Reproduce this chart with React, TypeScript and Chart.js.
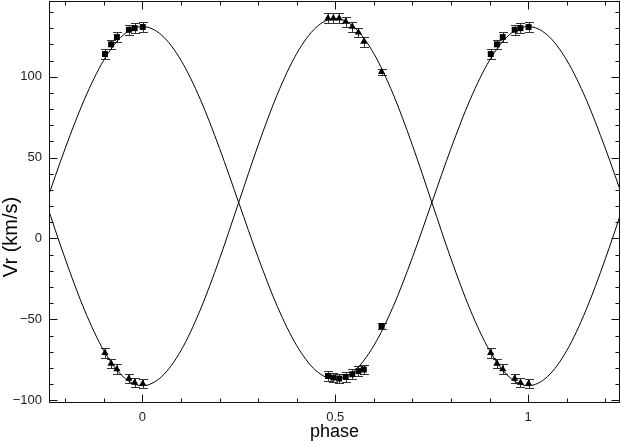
import React, { useEffect, useRef } from 'react';
import { Chart, registerables } from 'chart.js';

Chart.register(...registerables);

// Observed epochs (orbital phase) and radial velocities (km/s)
const OBS_PHASE = [-0.097, -0.081, -0.066, -0.035, -0.02, 0.001, 0.481, 0.495, 0.51, 0.527, 0.544, 0.56, 0.574, 0.62];
const VR_PRIMARY = [114.0, 120.0, 124.5, 129.0, 130.0, 130.7, -85.0, -86.0, -86.6, -85.6, -83.9, -82.0, -81.0, -54.2];
const VR_SECONDARY = [-70.7, -77.3, -80.8, -86.6, -89.1, -89.7, 136.1, 136.1, 136.1, 134.0, 130.9, 127.4, 121.6, 103.0];
const VR_ERROR = [3, 3, 3, 3, 3, 3, 3, 3, 3, 3, 3, 3, 3, 2];

// Orbit solution curves
const CURVE_PHASE = [
  -0.25, -0.2, -0.15, -0.1, -0.05, 0, 0.05, 0.1, 0.15, 0.2, 0.25, 0.3, 0.35, 0.4, 0.45, 0.5,
  0.55, 0.6, 0.65, 0.7, 0.75, 0.8, 0.85, 0.9, 0.95, 1.0, 1.05, 1.1, 1.15, 1.2, 1.25,
];
const CURVE_PRIMARY = [
  22, 55.7, 86.1, 110.2, 125.7, 131, 125.7, 110.2, 86.1, 55.7, 22, -11.7, -42.1, -66.2, -81.7, -87,
  -81.7, -66.2, -42.1, -11.7, 22, 55.7, 86.1, 110.2, 125.7, 131, 125.7, 110.2, 86.1, 55.7, 22,
];
const CURVE_SECONDARY = [
  22.5, -12.6, -44.2, -69.3, -85.4, -91, -85.4, -69.3, -44.2, -12.6, 22.5, 57.6, 89.2, 114.3, 130.4, 136,
  130.4, 114.3, 89.2, 57.6, 22.5, -12.6, -44.2, -69.3, -85.4, -91, -85.4, -69.3, -44.2, -12.6, 22.5,
];

const X_TICKS = [0, 0.5, 1];
const Y_TICKS = [-100, -50, 0, 50, 100];
const X_MIN = -0.242;
const X_MAX = 1.238;
const Y_MIN = -101.7;
const Y_MAX = 146.8;
const X_TITLE = 'phase';
const Y_TITLE = 'Vr (km/s)';

const FONT = "'Liberation Sans', Arial, Helvetica, sans-serif";
const TEXT = '#222';

function expand(phases: number[], values: number[], errs: number[]) {
  const pts: { x: number; y: number; e: number }[] = [];
  phases.forEach((p, i) => {
    pts.push({ x: p, y: values[i], e: errs[i] });
    if (p + 1 <= X_MAX) pts.push({ x: p + 1, y: values[i], e: errs[i] });
  });
  return pts;
}

function curve(values: number[]) {
  return CURVE_PHASE.map((p, i) => ({ x: p, y: values[i] }));
}

const errorBars = {
  id: 'errorBars',
  beforeDatasetsDraw(chart: any) {
    const { ctx, scales } = chart;
    const xs = scales.x;
    const ys = scales.y;
    ctx.save();
    ctx.strokeStyle = '#333';
    ctx.lineWidth = 1;
    chart.data.datasets.forEach((ds: any) => {
      if (!ds.errorBars) return;
      ds.data.forEach((pt: any) => {
        const px = Math.round(xs.getPixelForValue(pt.x)) + 0.5;
        const y1 = Math.round(ys.getPixelForValue(pt.y - pt.e)) + 0.5;
        const y2 = Math.round(ys.getPixelForValue(pt.y + pt.e)) + 0.5;
        ctx.beginPath();
        ctx.moveTo(px, y1);
        ctx.lineTo(px, y2);
        ctx.moveTo(px - 4.5, y1);
        ctx.lineTo(px + 4.5, y1);
        ctx.moveTo(px - 4.5, y2);
        ctx.lineTo(px + 4.5, y2);
        ctx.stroke();
      });
    });
    ctx.restore();
  },
};

const frameTicks = {
  id: 'frameTicks',
  afterDraw(chart: any) {
    const { ctx, chartArea, scales } = chart;
    const xs = scales.x;
    const ys = scales.y;
    const l = chartArea.left + 0.5;
    const r = chartArea.right - 0.5;
    const t = chartArea.top + 0.5;
    const b = chartArea.bottom - 0.5;
    ctx.save();
    ctx.strokeStyle = '#111';
    ctx.lineWidth = 1;
    ctx.strokeRect(l, t, r - l, b - t);
    ctx.beginPath();
    for (let k = -2; k <= 12; k++) {
      const v = k / 10;
      if (v < X_MIN || v > X_MAX) continue;
      const len = k % 5 === 0 ? 8 : 4;
      const px = Math.round(xs.getPixelForValue(v)) + 0.5;
      ctx.moveTo(px, b);
      ctx.lineTo(px, b - len);
      ctx.moveTo(px, t);
      ctx.lineTo(px, t + len);
    }
    for (let v = -100; v <= 140; v += 10) {
      if (v < Y_MIN || v > Y_MAX) continue;
      const len = v % 50 === 0 ? 8 : 4;
      const py = Math.round(ys.getPixelForValue(v)) + 0.5;
      ctx.moveTo(l, py);
      ctx.lineTo(l + len, py);
      ctx.moveTo(r, py);
      ctx.lineTo(r - len, py);
    }
    ctx.stroke();

    // y-axis title (rotated), placed as in the reference
    ctx.fillStyle = '#000';
    ctx.font = `20px ${FONT}`;
    ctx.textAlign = 'center';
    ctx.textBaseline = 'middle';
    ctx.translate(11, 237);
    ctx.rotate(-Math.PI / 2);
    ctx.fillText(Y_TITLE, 0, 0);
    ctx.restore();
  },
};

export default function App() {
  const ref = useRef<HTMLCanvasElement | null>(null);

  useEffect(() => {
    if (!ref.current) return;
    const chart = new Chart(ref.current, {
      type: 'scatter',
      data: {
        datasets: [
          {
            label: 'primary',
            data: expand(OBS_PHASE, VR_PRIMARY, VR_ERROR),
            pointStyle: 'rect',
            pointRadius: 4.2,
            backgroundColor: '#000',
            borderColor: '#000',
            borderWidth: 0,
            errorBars: true,
          } as any,
          {
            label: 'secondary',
            data: expand(OBS_PHASE, VR_SECONDARY, VR_ERROR),
            pointStyle: 'triangle',
            pointRadius: 4.2,
            backgroundColor: '#000',
            borderColor: '#000',
            borderWidth: 0,
            errorBars: true,
          } as any,
          {
            label: 'primary orbit',
            data: curve(CURVE_PRIMARY),
            showLine: true,
            pointRadius: 0,
            borderColor: '#000',
            borderWidth: 1,
            cubicInterpolationMode: 'monotone',
          } as any,
          {
            label: 'secondary orbit',
            data: curve(CURVE_SECONDARY),
            showLine: true,
            pointRadius: 0,
            borderColor: '#000',
            borderWidth: 1,
            cubicInterpolationMode: 'monotone',
          } as any,
        ],
      },
      options: {
        animation: false,
        responsive: false,
        devicePixelRatio: 1,
        layout: { autoPadding: false, padding: { left: 0, right: 1, top: 1, bottom: 0 } },
        plugins: { legend: { display: false }, tooltip: { enabled: false } },
        events: [],
        scales: {
          x: {
            type: 'linear',
            min: X_MIN,
            max: X_MAX,
            grid: { display: false, drawTicks: false },
            border: { display: false },
            afterBuildTicks: (s: any) => {
              s.ticks = X_TICKS.map((v) => ({ value: v }));
            },
            afterFit: (s: any) => {
              s.height = 40;
              s.paddingLeft = 0;
              s.paddingRight = 0;
            },
            ticks: {
              padding: 7,
              maxRotation: 0,
              color: TEXT,
              font: { family: FONT, size: 13 },
              callback: (v: any) => String(v).replace('-', '\u2212'),
            },
            title: {
              display: true,
              text: X_TITLE,
              color: '#000',
              font: { family: FONT, size: 18 },
              padding: { top: 0, bottom: 0 },
            },
          },
          y: {
            type: 'linear',
            min: Y_MIN,
            max: Y_MAX,
            grid: { display: false, drawTicks: false },
            border: { display: false },
            afterBuildTicks: (s: any) => {
              s.ticks = Y_TICKS.map((v) => ({ value: v }));
            },
            afterFit: (s: any) => {
              s.width = 49;
              s.paddingTop = 0;
              s.paddingBottom = 0;
            },
            ticks: {
              padding: 7,
              color: TEXT,
              font: { family: FONT, size: 13 },
              callback: (v: any) => String(v).replace('-', '\u2212'),
            },
            title: { display: false },
          },
        },
      } as any,
      plugins: [errorBars, frameTicks],
    });
    return () => chart.destroy();
  }, []);

  return (
    <canvas
      ref={ref}
      width={621}
      height={443}
      style={{ position: 'absolute', left: 0, top: 0, width: 621, height: 443 }}
    />
  );
}
